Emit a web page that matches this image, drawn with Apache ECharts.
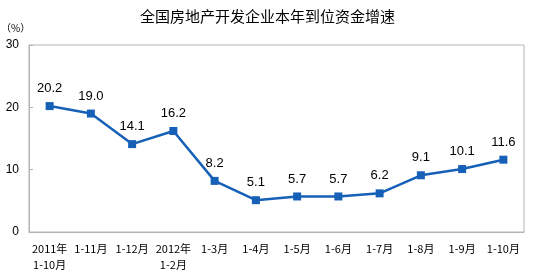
<!DOCTYPE html>
<html><head><meta charset="utf-8">
<script src="https://cdn.jsdelivr.net/npm/echarts@6/dist/echarts.min.js"></script>
<style>html,body{margin:0;padding:0;background:#fff}#c{width:535px;height:274px}</style>
</head><body><div id="c"></div>
<script>
const title = '全国房地产开发企业本年到位资金增速';
const unitLabel = '（%）';
const categories = ['2011年\n1-10月','1-11月','1-12月','2012年\n1-2月','1-3月','1-4月','1-5月','1-6月','1-7月','1-8月','1-9月','1-10月'];
const values = [20.2, 19.0, 14.1, 16.2, 8.2, 5.1, 5.7, 5.7, 6.2, 9.1, 10.1, 11.6];
const yTicks = [0, 10, 20, 30];

const chart = echarts.init(document.getElementById('c'));
chart.setOption({
  animation: false,
  backgroundColor: '#fff',
  title: {
    text: title, left: 'center', top: 4,
    textStyle: {fontSize: 15, fontWeight: 'normal', color: '#000', fontFamily: '"Noto Sans CJK SC", sans-serif'}
  },
  graphic: [{type: 'text', left: 1, top: 23, style: {text: unitLabel, fontSize: 10, fill: '#000', fontFamily: '"Noto Sans CJK SC", sans-serif'}}],
  grid: {left: 29, right: 11, top: 45, bottom: 42, show: true, borderColor: '#b4b4b4', borderWidth: 1},
  xAxis: {
    type: 'category', data: categories, boundaryGap: true,
    axisLine: {lineStyle: {color: '#b4b4b4'}},
    axisTick: {inside: true, length: 4, lineStyle: {color: '#b4b4b4'}},
    axisLabel: {color: '#000', fontSize: 11, margin: 9, lineHeight: 16, interval: 0, fontFamily: '"Noto Sans CJK SC", sans-serif',
      align: 'center'}
  },
  yAxis: {
    type: 'value', min: yTicks[0], max: yTicks[yTicks.length-1], interval: 10,
    axisLine: {show: true, lineStyle: {color: '#b4b4b4'}},
    axisTick: {show: true, inside: true, length: 4, lineStyle: {color: '#b4b4b4'}},
    splitLine: {show: false},
    axisLabel: {color: '#000', fontSize: 12, margin: 10, fontFamily: '"Liberation Sans", Arial, sans-serif'}
  },
  series: [{
    type: 'line', data: values,
    symbol: 'rect', symbolSize: 8,
    lineStyle: {color: '#1660b8', width: 2.5},
    itemStyle: {color: '#1660b8'},
    label: {show: true, position: 'top', distance: 7, color: '#000', fontSize: 13,
      fontFamily: '"Liberation Sans", Arial, sans-serif',
      formatter: p => p.value.toFixed(1)}
  }]
});
</script></body></html>
